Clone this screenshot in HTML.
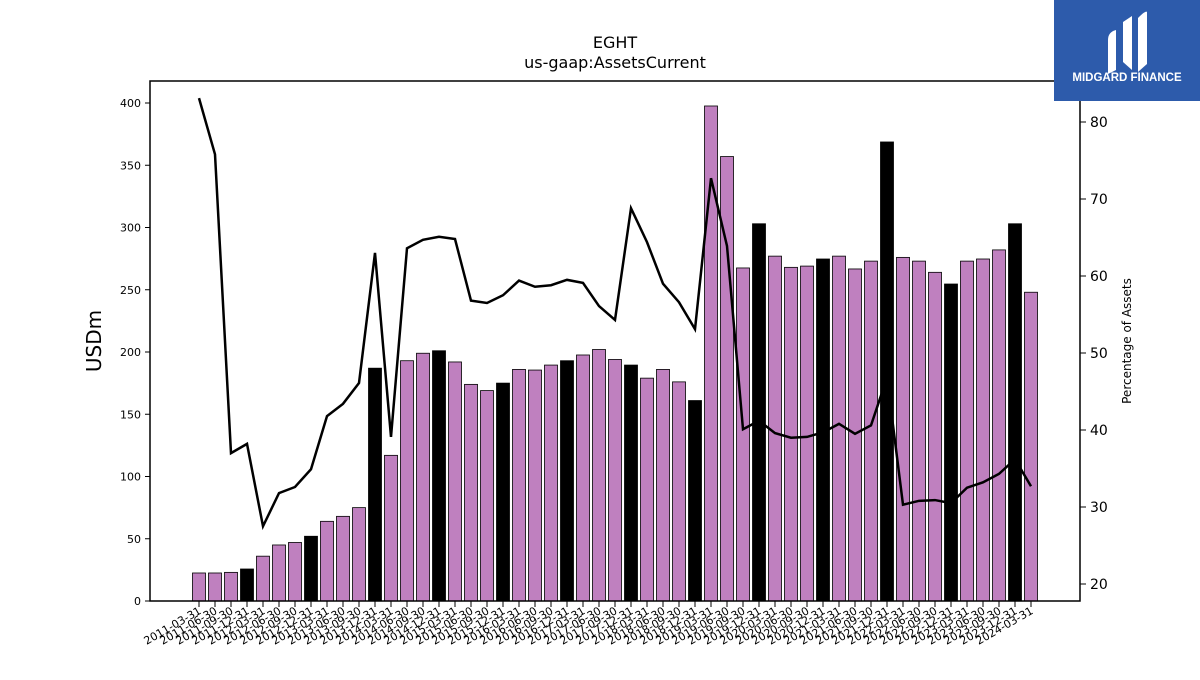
<!DOCTYPE html>
<html><head><meta charset="utf-8"><style>
body{margin:0;background:#fff;width:1200px;height:675px;overflow:hidden;font-family:"Liberation Sans","DejaVu Sans",sans-serif}
</style></head><body>
<svg id="chart" width="1200" height="675" xmlns="http://www.w3.org/2000/svg" font-family="DejaVu Sans, Liberation Sans, sans-serif">
<text x="615" y="48" font-size="16" text-anchor="middle">EGHT</text>
<text x="615" y="68" font-size="16" text-anchor="middle">us-gaap:AssetsCurrent</text>
<g id="bars"></g>
<g id="line"></g>
<rect x="150" y="81" width="930" height="520" fill="none" stroke="#000" stroke-width="1.5"/>
<g id="laxis"></g>
<g id="raxis"></g>
<g id="xaxis"></g>
<text transform="translate(101,341) rotate(-90)" font-size="20" text-anchor="middle">USDm</text>
<text transform="translate(1131,341) rotate(-90)" font-size="12" text-anchor="middle">Percentage of Assets</text>
<g>
<rect x="1054" y="0" width="146" height="101" fill="#2d5bab"/>
<path d="M1108 40 Q1108 32 1116 30 L1116 70 L1108 74 Z" fill="#fff"/>
<path d="M1123 22 L1132 16 L1132 70 L1123 62 Z" fill="#fff"/>
<path d="M1138 18 Q1146 10 1147 12 L1147 64 L1138 72 Z" fill="#fff"/>
<text x="1127" y="81" font-size="11.5" font-weight="bold" fill="#fff" text-anchor="middle" font-family="Liberation Sans, sans-serif">MIDGARD FINANCE</text>
</g>
</svg>
<script>
const dates=[];for(let y=2011;y<=2024;y++)for(const q of["03-31","06-30","09-30","12-31"]){if(y===2024&&q!=="03-31")continue;dates.push(y+"-"+q);}
const assets=[22.5,22.5,23,25.7,36,45,47,52,64,68,75,187,117,193,199,201,192,174,169,175,186,185.5,189.5,193,197.6,202,194,189.5,179,186,176,161,397.6,357,267.5,303,277,268,269,274.7,277,266.7,273,368.7,276,273,264,254.6,273,274.7,282,303,248];
const pct=[83.1,75.8,37,38.2,27.5,31.8,32.6,34.9,41.8,43.4,46.1,63,39.1,63.6,64.7,65.1,64.8,56.8,56.5,57.5,59.4,58.6,58.8,59.5,59.1,56.1,54.3,68.8,64.4,59,56.6,53.1,72.7,63.9,40.1,41.2,39.6,39,39.1,39.7,40.8,39.5,40.6,46.8,30.3,30.8,30.9,30.5,32.5,33.2,34.3,36.2,32.7];
const leftTicks=[0,50,100,150,200,250,300,350,400];
const rightTicks=[20,30,40,50,60,70,80];
const NS="http://www.w3.org/2000/svg";
const X=i=>199+i*(832/(dates.length-1));
const Y=v=>601-v*1.245;
const Y2=v=>584-(v-20)*7.7;
function mk(t,a,p){const e=document.createElementNS(NS,t);for(const k in a)e.setAttribute(k,a[k]);p.appendChild(e);return e;}
const bars=document.getElementById('bars');
assets.forEach((v,i)=>{const r=mk('rect',{x:X(i)-6.5,y:Y(v),width:13,height:601-Y(v),fill:i%4===3?'#000':'#bf80bf',stroke:'#000','stroke-width':0.8},bars);

});
const lg=document.getElementById('line');
const pl=mk('polyline',{points:pct.map((v,i)=>X(i)+','+Y2(v)).join(' '),fill:'none',stroke:'#000','stroke-width':2.5},lg);


const la=document.getElementById('laxis');
leftTicks.forEach(t=>{mk('line',{x1:145,x2:150,y1:Y(t),y2:Y(t),stroke:'#000'},la);
const tx=mk('text',{x:141,y:Y(t)+4,'font-size':11,'text-anchor':'end'},la);tx.textContent=t;

});
const ra=document.getElementById('raxis');
rightTicks.forEach(t=>{mk('line',{x1:1080,x2:1086,y1:Y2(t),y2:Y2(t),stroke:'#000'},ra);
const tx=mk('text',{x:1090,y:Y2(t)+5,'font-size':14},ra);tx.textContent=t;

});
const xa=document.getElementById('xaxis');
dates.forEach((d,i)=>{const x=X(i);mk('line',{x1:x,x2:x,y1:601,y2:607,stroke:'#000'},xa);
const tx=mk('text',{transform:`translate(${x+3},${613}) rotate(-30)`,'font-size':11,'text-anchor':'end'},xa);tx.textContent=d;

});
</script>
</body></html>
